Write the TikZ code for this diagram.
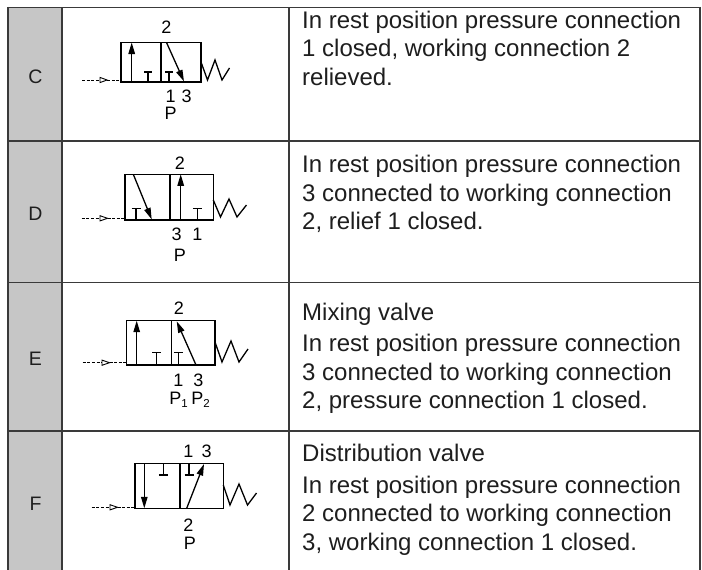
\documentclass[tikz,border=0pt]{standalone}
\usepackage{fontspec}
\setmainfont{Liberation Sans}
\usetikzlibrary{arrows.meta}
\definecolor{rulecol}{HTML}{3A3A3A}
\definecolor{cellgray}{HTML}{C6C6C6}
\definecolor{ink}{HTML}{1E1E1E}
\begin{document}
\begin{tikzpicture}[x=1pt,y=-1pt,
  desc/.style={anchor=base west, inner sep=0, font=\fontsize{24}{28}\selectfont, text=ink},
  lett/.style={inner sep=0, font=\fontsize{19.5}{21}\selectfont, text=ink},
  port/.style={inner sep=0, font=\fontsize{18}{20}\selectfont, text=black},
  sym/.style={line width=1.3pt, black, line join=miter},
  flow/.style={sym, -{Triangle[length=11.5pt,width=6.5pt]}},
  pilot/.style={line width=1pt, black, dash pattern=on 3pt off 1.6pt},
  pilothead/.style={line width=0.9pt, black, fill=white},
  tablerule/.style={line width=1.5pt, rulecol}]

\useasboundingbox (0,0) rectangle (702,570);
\fill[white] (0,0) rectangle (702,570);
\fill[cellgray] (8,7.5) rectangle (62,570);

% table rules
\draw[tablerule] (8,7.5) -- (700,7.5);
\draw[tablerule] (8,141) -- (700,141);
\draw[tablerule] (8,282.5) -- (700,282.5);
\draw[tablerule] (8,431) -- (700,431);
\draw[line width=2pt, rulecol] (8,6.75) -- (8,570);
\draw[tablerule] (62,7.5) -- (62,570);
\draw[tablerule] (289,7.5) -- (289,570);
\draw[tablerule] (700,6.75) -- (700,570);

% row letters
\node[lett] (lC) at (35.5,76.7) {C};
\node[lett] (lD) at (35.5,213.3) {D};
\node[lett] (lE) at (35.5,358.3) {E};
\node[lett] (lF) at (35.5,503.3) {F};

% ---------- Row C ----------
\draw[sym] (121,42.5) rectangle (201,82);
\draw[sym] (161,42.5) -- (161,82);
\draw[flow] (131.7,82) -- (131.7,42.5);
\draw[sym] (148,82) -- (148,72) (144,72) -- (152,72);
\draw[sym] (169,82) -- (169,72) (165,72) -- (173,72);
\draw[flow] (166.5,42.5) -- (184,81.4);
\draw[sym] (201,62) -- (207.5,80) -- (215,60) -- (222,80) -- (229.5,68);
\draw[pilot] (82,80) -- (100,80);
\draw[pilothead] (100,77.4) -- (107,80) -- (100,82.6) -- cycle;
\draw[pilot] (107,80) -- (121,80);
\node[port] (c2) at (166.5,27) {2};
\node[port] (c1) at (170.7,96.7) {1};
\node[port] (c3) at (186.7,96.7) {3};
\node[port] (cP) at (170.7,113) {P};

% ---------- Row D ----------
\draw[sym] (125,174.3) rectangle (213.3,220);
\draw[sym] (170,174.3) -- (170,220);
\draw[flow] (133.3,174.3) -- (151.7,219.4);
\draw[sym] (136,220) -- (136,208.3) (131.5,208.3) -- (140.5,208.3);
\draw[flow] (180.7,220) -- (180.7,174.3);
\draw[sym] (197.3,220) -- (197.3,208.3) (192.8,208.3) -- (201.8,208.3);
\draw[sym] (213.3,200) -- (220.5,217) -- (229,199) -- (237,217) -- (246.5,205);
\draw[pilot] (81.7,218.3) -- (100,218.3);
\draw[pilothead] (100,215.7) -- (107.5,218.3) -- (100,220.9) -- cycle;
\draw[pilot] (107.5,218.3) -- (125,218.3);
\node[port] (d2) at (180,163.3) {2};
\node[port] (d3) at (176.7,234.3) {3};
\node[port] (d1) at (197.3,234.3) {1};
\node[port] (dP) at (180,255) {P};

% ---------- Row E ----------
\draw[sym] (126.7,320.7) rectangle (215,365);
\draw[sym] (171.7,320.7) -- (171.7,365);
\draw[flow] (136.7,365) -- (136.7,320.7);
\draw[sym] (156.7,365) -- (156.7,352.7) (152.2,352.7) -- (161.2,352.7);
\draw[sym] (178.3,365) -- (178.3,352.7) (173.8,352.7) -- (182.8,352.7);
\draw[flow] (196,365) -- (176.7,321.3);
\draw[sym] (215,342) -- (222,362) -- (231,341) -- (239,362) -- (248,349);
\draw[pilot] (82.7,362.7) -- (102,362.7);
\draw[pilothead] (102,360.1) -- (109.5,362.7) -- (102,365.3) -- cycle;
\draw[pilot] (109.5,362.7) -- (126.7,362.7);
\node[port] (e2) at (179,308.3) {2};
\node[port] (e1) at (178.3,380) {1};
\node[port] (e3) at (198.3,380) {3};
\node[port, anchor=base] (eP1) at (178.5,404.8) {P\raisebox{-0.3ex}{\fontsize{11.5}{12}\selectfont 1}};
\node[port, anchor=base] (eP2) at (200.5,404.8) {P\raisebox{-0.3ex}{\fontsize{11.5}{12}\selectfont 2}};

% ---------- Row F ----------
\draw[sym] (135,463.3) rectangle (223.3,508.3);
\draw[sym] (180,463.3) -- (180,508.3);
\draw[flow] (144.3,463.3) -- (144.3,508.3);
\draw[sym] (163.3,463.3) -- (163.3,475) (158.8,475) -- (167.8,475);
\draw[sym] (189,463.3) -- (189,475) (184.5,475) -- (193.5,475);
\draw[flow] (186.7,508.3) -- (204,464);
\draw[sym] (223.3,485) -- (230,505) -- (239,484) -- (247.5,505) -- (256.5,493);
\draw[pilot] (91.7,507.3) -- (110,507.3);
\draw[pilothead] (110,504.7) -- (117.5,507.3) -- (110,509.9) -- cycle;
\draw[pilot] (117.5,507.3) -- (135,507.3);
\node[port] (f1) at (188.3,451.7) {1};
\node[port] (f3) at (206.7,451.7) {3};
\node[port] (f2) at (188.3,525) {2};
\node[port] (fP) at (190,543.3) {P};

% ---------- Descriptions ----------
\node[desc] (tC1) at (302,28.3) {In rest position pressure connection};
\node[desc] (tC2) at (302,56.8) {1 closed, working connection 2};
\node[desc] (tC3) at (302,85.3) {relieved.};

\node[desc] (tD1) at (302,172.6) {In rest position pressure connection};
\node[desc] (tD2) at (302,201.1) {3 connected to working connection};
\node[desc] (tD3) at (302,229.6) {2, relief 1 closed.};

\node[desc] (tE1) at (302,320) {Mixing valve};
\node[desc] (tE2) at (302,351.7) {In rest position pressure connection};
\node[desc] (tE3) at (302,380.2) {3 connected to working connection};
\node[desc] (tE4) at (302,408.7) {2, pressure connection 1 closed.};

\node[desc] (tF1) at (302,461.6) {Distribution valve};
\node[desc] (tF2) at (302,493.3) {In rest position pressure connection};
\node[desc] (tF3) at (302,521.8) {2 connected to working connection};
\node[desc] (tF4) at (302,550.3) {3, working connection 1 closed.};
\end{tikzpicture}
\end{document}
